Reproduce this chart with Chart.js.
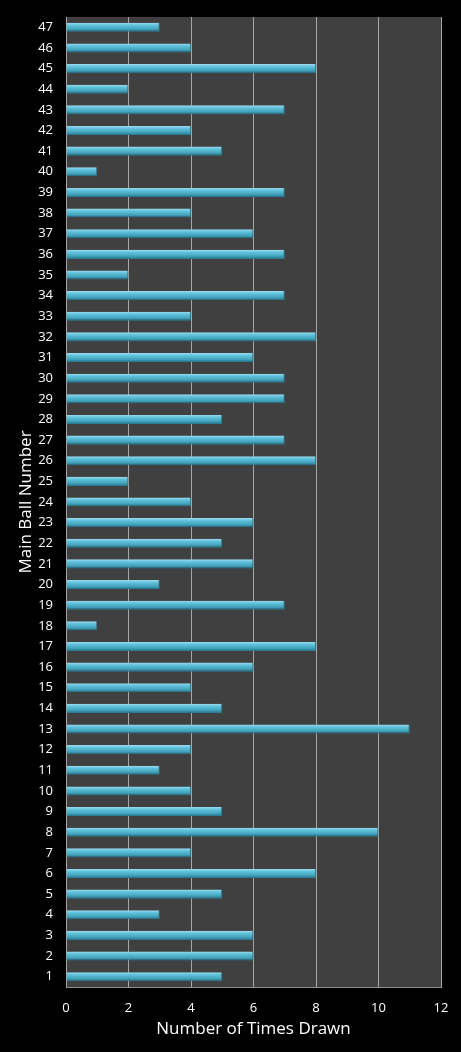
<!DOCTYPE html>
<html lang="en">
<head>
    <meta charset="UTF-8">
    <title>Main Ball Frequency</title>
    <style>
        body {
            margin: 0;
            background-color: #000;
        }
        #wrap {
            width: 461px;
            height: 1052px;
        }
    </style>
</head>
<body>
    <div id="wrap"><canvas id="ballChart" width="461" height="1052"></canvas></div>
    <script src="https://cdn.jsdelivr.net/npm/chart.js"></script>
    <script>
        // ball numbers 1..47 and how many times each was drawn
        const ballNumbers = ['1', '2', '3', '4', '5', '6', '7', '8', '9', '10',
            '11', '12', '13', '14', '15', '16', '17', '18', '19', '20',
            '21', '22', '23', '24', '25', '26', '27', '28', '29', '30',
            '31', '32', '33', '34', '35', '36', '37', '38', '39', '40',
            '41', '42', '43', '44', '45', '46', '47'];
        const timesDrawn = [5, 6, 6, 3, 5, 8, 4, 10, 5, 4,
            3, 4, 11, 5, 4, 6, 8, 1, 7, 3,
            6, 5, 6, 4, 2, 8, 7, 5, 7, 7,
            6, 8, 4, 7, 2, 7, 6, 4, 7, 1,
            5, 4, 7, 2, 8, 4, 3];
        const xTicks = [0, 2, 4, 6, 8, 10, 12];

        const barRatio = 0.44;

        // vertical gradient per bar so it looks like the glossy tube
        function barFill(context) {
            const chart = context.chart;
            const y = chart.scales.y;
            if (!y || !chart.chartArea) return '#4bacc6';
            const c = y.getPixelForValue(context.dataIndex);
            const h = (y.height / ballNumbers.length) * barRatio;
            const g = chart.ctx.createLinearGradient(0, c - h / 2, 0, c + h / 2);
            g.addColorStop(0, '#9adcee');
            g.addColorStop(0.3, '#5ec0da');
            g.addColorStop(0.7, '#43a3bd');
            g.addColorStop(1, '#256e82');
            return g;
        }

        const plotBg = {
            id: 'plotBg',
            beforeDraw(chart) {
                const a = chart.chartArea;
                const ctx = chart.ctx;
                ctx.save();
                ctx.fillStyle = '#000';
                ctx.fillRect(0, 0, chart.width, chart.height);
                ctx.fillStyle = '#404040';
                ctx.fillRect(a.left, a.top, a.right - a.left, a.bottom - a.top);
                ctx.restore();
            }
        };

        const ctx = document.getElementById('ballChart').getContext('2d');
        new Chart(ctx, {
            type: 'bar',
            data: {
                labels: ballNumbers,
                datasets: [{
                    data: timesDrawn,
                    backgroundColor: barFill,
                    borderColor: '#2b7d93',
                    borderWidth: { top: 0, bottom: 1, left: 0, right: 1 },
                    categoryPercentage: 1,
                    barPercentage: barRatio
                }]
            },
            plugins: [plotBg],
            options: {
                indexAxis: 'y',
                responsive: false,
                animation: false,
                layout: { padding: { top: 17, right: 20, left: 0, bottom: 0 } },
                plugins: {
                    legend: { display: false },
                    tooltip: { enabled: false }
                },
                scales: {
                    x: {
                        min: 0,
                        max: 12,
                        afterBuildTicks(axis) {
                            axis.ticks = xTicks.map(v => ({ value: v }));
                        },
                        afterFit(axis) {
                            axis.height = 65;
                            axis.paddingLeft = 0;
                            axis.paddingRight = 0;
                        },
                        grid: { color: '#a6a6a6', lineWidth: 1, drawTicks: false },
                        border: { color: '#8c8c8c', width: 1 },
                        ticks: {
                            color: '#ffffff',
                            padding: 13,
                            font: { family: 'Open Sans', size: 13 }
                        },
                        title: {
                            display: true,
                            text: 'Number of Times Drawn',
                            color: '#ffffff',
                            padding: 13,
                            font: { family: 'Open Sans', size: 17 }
                        }
                    },
                    y: {
                        reverse: true,
                        afterFit(axis) {
                            axis.width = 66;
                            axis.paddingTop = 0;
                            axis.paddingBottom = 0;
                        },
                        grid: { display: false, drawTicks: false },
                        border: { color: '#a6a6a6', width: 1 },
                        ticks: {
                            color: '#ffffff',
                            padding: 13,
                            autoSkip: false,
                            font: { family: 'Open Sans', size: 13 }
                        },
                        title: {
                            display: true,
                            text: 'Main Ball Number',
                            color: '#ffffff',
                            padding: 16,
                            font: { family: 'Open Sans', size: 17 }
                        }
                    }
                }
            }
        });
    </script>
</body>
</html>
